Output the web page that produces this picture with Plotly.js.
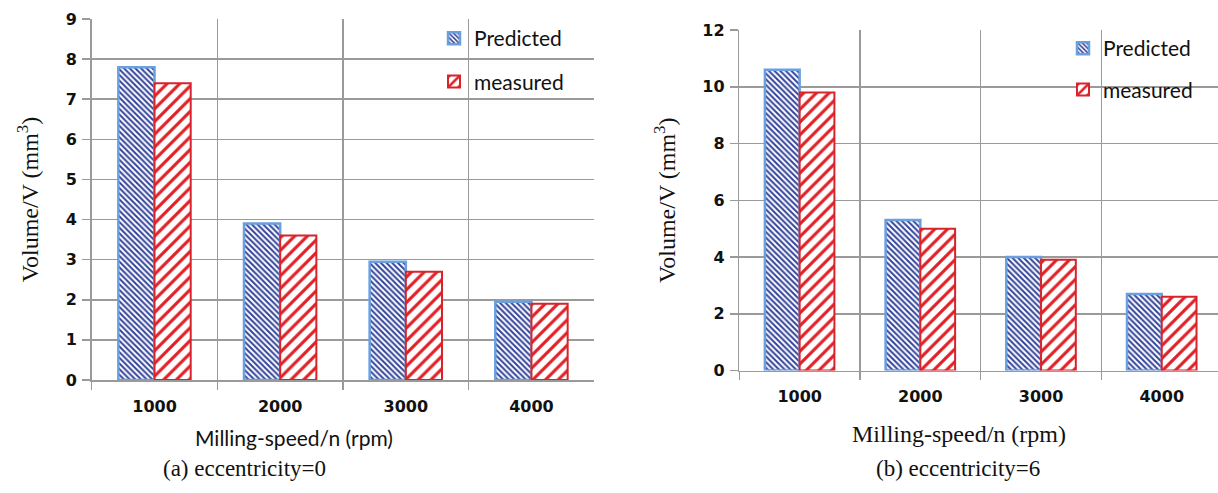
<!DOCTYPE html>
<html>
<head>
<meta charset="utf-8">
<script src="https://cdn.plot.ly/plotly-3.0.1.min.js"></script>
<style>html,body{margin:0;padding:0;background:#fff;}#chart{width:1218px;height:493px;}</style>
</head>
<body>
<div id="chart"></div>
<script>
// ---- data ----
const speeds = ["1000", "2000", "3000", "4000"];
const predictedA = [7.8, 3.9, 2.95, 1.95];
const measuredA  = [7.4, 3.6, 2.7, 1.9];
const predictedB = [10.6, 5.3, 4.0, 2.7];
const measuredB  = [9.8, 5.0, 3.9, 2.6];
const seriesNames = ["Predicted", "measured"];
const yTitle = "Volume/V (mm<sup>3</sup>)";
const xTitle = "Milling-speed/n (rpm)";
const subTitles = ["(a) eccentricity=0", "(b) eccentricity=6"];

const W = 1218, H = 493;
const px = v => v / W, py = v => 1 - v / H;

const predStyle = {
  color: "#ffffff",
  line: {color: "#6a9fe0", width: 2.5},
  pattern: {shape: "\\", fgcolor: "#34449a", bgcolor: "#ffffff", size: 4, solidity: 0.5}
};
const measStyle = {
  color: "#ffffff",
  line: {color: "#d8232a", width: 2},
  pattern: {shape: "/", fgcolor: "#e02027", bgcolor: "#ffffff", size: 9, solidity: 0.35}
};

const traces = [
  {type: "bar", x: speeds, y: predictedA, name: seriesNames[0], marker: predStyle, xaxis: "x", yaxis: "y", legend: "legend", legendgroup: "p"},
  {type: "bar", x: speeds, y: measuredA, name: seriesNames[1], marker: measStyle, xaxis: "x", yaxis: "y", legend: "legend", legendgroup: "m"},
  {type: "bar", x: speeds, y: predictedB, name: seriesNames[0], marker: predStyle, xaxis: "x2", yaxis: "y2", legend: "legend2", legendgroup: "p2"},
  {type: "bar", x: speeds, y: measuredB, name: seriesNames[1], marker: measStyle, xaxis: "x2", yaxis: "y2", legend: "legend2", legendgroup: "m2"}
];

const gridC = "#9a9a9a";
const serif = "'Liberation Serif', 'Times New Roman', serif";
const sans = "Lato, 'Liberation Sans', sans-serif";
const tickFont = {family: "'DejaVu Sans', 'Liberation Sans', sans-serif", size: 16, color: "#111", weight: 700};

function xAxis(domain, range) {
  return {
    domain: domain, type: "category", range: range, tickson: "boundaries",
    showgrid: true, gridcolor: gridC, gridwidth: 1.5,
    ticks: "outside", ticklen: 8, tickcolor: gridC, tickwidth: 1.5,
    showline: true, linecolor: gridC, linewidth: 1.5,
    tickfont: tickFont, ticklabelstandoff: 11, fixedrange: true
  };
}
function yAxis(domain, range, dtick, anchor) {
  return {
    domain: domain, range: range, dtick: dtick, anchor: anchor,
    showgrid: true, gridcolor: gridC, gridwidth: 1.5, zeroline: false,
    ticks: "outside", ticklen: 8, tickcolor: gridC, tickwidth: 1.5,
    showline: true, linecolor: gridC, linewidth: 1.5,
    tickfont: tickFont, ticklabelstandoff: 2,
    title: {text: yTitle, font: {family: serif, size: 24, color: "#111"}, standoff: 20}
  };
}

const layout = {
  width: W, height: H,
  margin: {l: 0, r: 0, t: 0, b: 0},
  paper_bgcolor: "#fff", plot_bgcolor: "#fff",
  barmode: "group", bargap: 0.424, bargroupgap: 0,
  xaxis: xAxis([px(91.7), px(594.3)], [-0.5, 3.5]),
  yaxis: yAxis([py(380), py(19)], [0, 9], 1, "x"),
  xaxis2: Object.assign(xAxis([px(739.3), 1], [-0.5, 3.466]), {anchor: "y2"}),
  yaxis2: yAxis([py(370.5), py(30)], [0, 12], 2, "x2"),
  legend: {x: px(434), y: py(18), xanchor: "left", yanchor: "top", bgcolor: "rgba(0,0,0,0)",
           font: {family: sans, size: 21, color: "#111"}, traceorder: "grouped", tracegroupgap: 13},
  legend2: {x: px(1063), y: py(28), xanchor: "left", yanchor: "top", bgcolor: "rgba(0,0,0,0)",
           font: {family: sans, size: 21, color: "#111"}, traceorder: "grouped", tracegroupgap: 11},
  annotations: [
    {text: xTitle, xref: "paper", yref: "paper", x: px(294), y: py(437), showarrow: false,
     font: {family: sans, size: 21, color: "#111"}, xanchor: "center", yanchor: "middle"},
    {text: subTitles[0], xref: "paper", yref: "paper", x: px(244), y: py(468), showarrow: false,
     font: {family: serif, size: 23, color: "#111"}, xanchor: "center", yanchor: "middle"},
    {text: xTitle, xref: "paper", yref: "paper", x: px(959), y: py(434), showarrow: false,
     font: {family: serif, size: 24, color: "#111"}, xanchor: "center", yanchor: "middle"},
    {text: subTitles[1], xref: "paper", yref: "paper", x: px(958), y: py(468), showarrow: false,
     font: {family: serif, size: 23, color: "#111"}, xanchor: "center", yanchor: "middle"}
  ]
};

Plotly.newPlot("chart", traces, layout, {displayModeBar: false, staticPlot: true});
</script>
</body>
</html>
